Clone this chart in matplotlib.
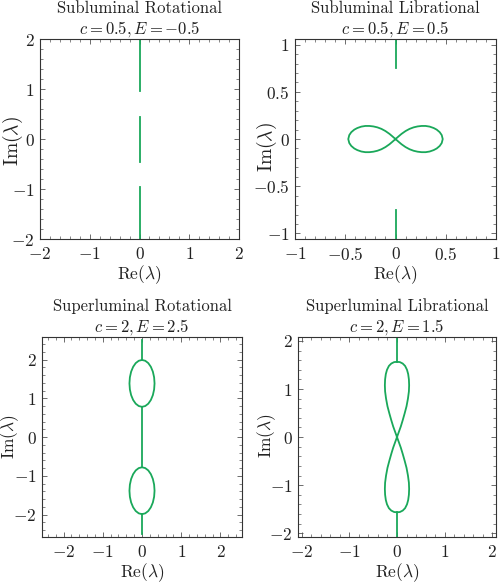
import numpy as np
import matplotlib
matplotlib.use("Agg")
import matplotlib.pyplot as plt
from matplotlib.ticker import MultipleLocator, AutoMinorLocator, FuncFormatter

plt.rcParams['font.family'] = ['cmr10', 'DejaVu Serif']
plt.rcParams['mathtext.fontset'] = 'cm'
plt.rcParams['axes.formatter.use_mathtext'] = True
plt.rcParams['axes.unicode_minus'] = True

GREEN = '#1aa85a'

titles = ["Subluminal Rotational", "Subluminal Librational",
          "Superluminal Rotational", "Superluminal Librational"]
params = [r"$c = 0.5, E = -0.5$", r"$c = 0.5, E = 0.5$",
          r"$c = 2, E = 2.5$", r"$c = 2, E = 1.5$"]

# spectrum pieces on the imaginary axis (Im start, Im end)
sub_rot_segments = [(0.956, 2.1), (-0.45, 0.45), (-2.1, -0.956)]
sub_lib_segments = [(0.75, 1.1), (-1.1, -0.75)]
sup_rot_segments = [(2.0, 2.5), (-0.78, 0.78), (-2.5, -2.0)]
sup_lib_segments = [(1.565, 2.1), (-2.1, -1.565)]

# subluminal librational: figure-eight, upper half of right lobe (Re, Im)
lib8_re = [0.0, 0.03, 0.06, 0.10, 0.14, 0.18, 0.22, 0.26, 0.30, 0.34, 0.38, 0.41, 0.44, 0.46, 0.47]
lib8_im = [0.0, 0.028, 0.055, 0.085, 0.108, 0.124, 0.134, 0.139, 0.139, 0.132, 0.117, 0.100, 0.073, 0.042, 0.0]

# superluminal librational: vertical figure-eight, right half of upper lobe
vert8_re = [0.0, 0.04, 0.08, 0.12, 0.16, 0.20, 0.23, 0.25, 0.255, 0.25, 0.235, 0.21, 0.17, 0.12, 0.06, 0.0]
vert8_im = [0.0, 0.11, 0.22, 0.35, 0.49, 0.64, 0.80, 0.95, 1.08, 1.20, 1.31, 1.40, 1.48, 1.53, 1.56, 1.565]

# superluminal rotational: right half of the upper loop
loop_re = [0.0, 0.083, 0.16, 0.226, 0.277, 0.309, 0.32, 0.309, 0.277, 0.226, 0.16, 0.083, 0.0]
loop_im = [1.99, 1.969, 1.909, 1.813, 1.688, 1.542, 1.385, 1.228, 1.082, 0.957, 0.861, 0.801, 0.78]

limits = [((-2, 2), (-2, 2)), ((-1.0, 1.0), (-1.06, 1.06)),
          ((-2.55, 2.55), (-2.58, 2.58)), ((-2.08, 2.08), (-2.08, 2.08))]
majors = [1, 0.5, 1, 1]
boxes = [[0.080, 0.5935, 0.398, 0.340], [0.590, 0.5935, 0.402, 0.340],
         [0.084, 0.0867, 0.400, 0.340], [0.596, 0.0867, 0.396, 0.340]]
# label centres in axes coords and sizes
xlabel_y = [-0.178, -0.178, -0.178, -0.18]
ylabel_x = [-0.136, -0.142, -0.160, -0.157]
ylabel_y = [0.49, 0.46, 0.50, 0.507]
ylabel_size = [14, 14, 12.5, 12.5]


def mirror4(re, im):
    re = np.asarray(re)
    im = np.asarray(im)
    return re, im, -re, im, re, -im, -re, -im


def style(ax, xl, yl, major):
    ax.set_xlim(*xl)
    ax.set_ylim(*yl)
    ax.xaxis.set_major_locator(MultipleLocator(major))
    ax.yaxis.set_major_locator(MultipleLocator(major))
    ax.xaxis.set_minor_locator(AutoMinorLocator(5))
    ax.yaxis.set_minor_locator(AutoMinorLocator(5))
    fmt = FuncFormatter(lambda v, p: f"${v:g}$")
    ax.xaxis.set_major_formatter(fmt)
    ax.yaxis.set_major_formatter(fmt)
    ax.tick_params(which='both', direction='in', top=True, right=True,
                   labelsize=12.5, color='#555555', labelcolor='#222222')
    ax.tick_params(axis='x', pad=5)
    ax.tick_params(axis='y', pad=4)
    ax.tick_params(which='major', length=3.5, width=0.6)
    ax.tick_params(which='minor', length=2, width=0.5)
    for s in ax.spines.values():
        s.set_linewidth(0.8)
        s.set_color('#333333')


fig = plt.figure(figsize=(5.0, 5.88), dpi=100)
axes = [fig.add_axes(b) for b in boxes]

lw = 1.3

# panel 1
ax = axes[0]
for a, b in sub_rot_segments:
    ax.plot([0, 0], [a, b], color=GREEN, lw=lw)

# panel 2
ax = axes[1]
for a, b in sub_lib_segments:
    ax.plot([0, 0], [a, b], color=GREEN, lw=lw)
r1, i1, r2, i2, r3, i3, r4, i4 = mirror4(lib8_re, lib8_im)
ax.plot(np.concatenate([r1, r1[::-1]]), np.concatenate([i1, -i1[::-1]]), color=GREEN, lw=lw)
ax.plot(np.concatenate([r2, r2[::-1]]), np.concatenate([i2, -i2[::-1]]), color=GREEN, lw=lw)

# panel 3
ax = axes[2]
for a, b in sup_rot_segments:
    ax.plot([0, 0], [a, b], color=GREEN, lw=lw)
lr = np.asarray(loop_re)
li = np.asarray(loop_im)
for sgn in (1, -1):
    ax.plot(np.concatenate([lr, -lr[::-1]]), sgn * np.concatenate([li, li[::-1]]),
            color=GREEN, lw=lw)

# panel 4
ax = axes[3]
for a, b in sup_lib_segments:
    ax.plot([0, 0], [a, b], color=GREEN, lw=lw)
vr = np.asarray(vert8_re)
vi = np.asarray(vert8_im)
for sgn in (1, -1):
    ax.plot(np.concatenate([vr, -vr[::-1]]), sgn * np.concatenate([vi, vi[::-1]]),
            color=GREEN, lw=lw)

for k, ax in enumerate(axes):
    xl, yl = limits[k]
    style(ax, xl, yl, majors[k])
    ax.set_title(titles[k] + "\n" + params[k], fontsize=12, linespacing=1.2,
                 pad=2, color='#222222')
    ax.set_xlabel(r"$\mathrm{Re}(\lambda)$", fontsize=12.5, color='#222222')
    ax.set_ylabel(r"$\mathrm{Im}(\lambda)$", fontsize=ylabel_size[k], color='#222222')
    ax.xaxis.set_label_coords(0.5, xlabel_y[k])
    ax.yaxis.set_label_coords(ylabel_x[k], ylabel_y[k])
    ax.xaxis.label.set_verticalalignment('center')
    ax.yaxis.label.set_verticalalignment('center')

fig.savefig("out.png", dpi=100)
